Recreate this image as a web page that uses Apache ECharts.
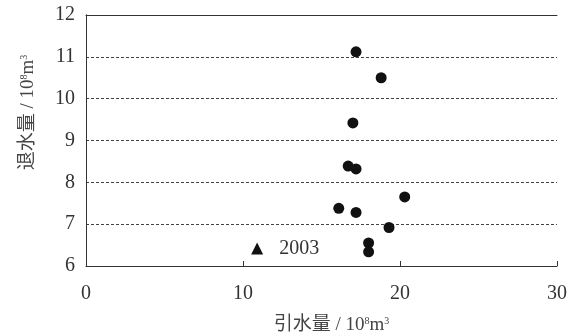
<!DOCTYPE html>
<html><head><meta charset="utf-8">
<script src="https://cdn.jsdelivr.net/npm/echarts@6/dist/echarts.min.js"></script>
<style>html,body{margin:0;padding:0;background:#fff}#c{width:574px;height:334px}</style>
</head><body><div id="c"></div>
<script>
const circleX = [17.2, 18.8, 17.0, 16.7, 17.2, 20.3, 16.1, 17.2, 19.3, 18.0, 18.0];
const circleY = [11.12, 10.5, 9.42, 8.39, 8.32, 7.65, 7.38, 7.28, 6.92, 6.55, 6.34];
const triangleX = [10.9];
const triangleY = [6.42];
const triangleLabel = '2003';
const xTicks = [0, 10, 20, 30];
const yTicks = [6, 7, 8, 9, 10, 11, 12];

const serif = '"Liberation Serif","Noto Sans CJK SC",serif';
const txt = '#333';
const chart = echarts.init(document.getElementById('c'), null, {renderer:'canvas'});
const rich = {
  b:{fontFamily:serif,fontSize:19,color:'#444'},
  s:{fontFamily:serif,fontSize:10,color:'#444',verticalAlign:'top',padding:[0,0,9,0]}
};
chart.setOption({
  animation:false,
  grid:{left:86,top:15,right:17,bottom:68,show:false,containLabel:false,outerBoundsMode:'none'},
  xAxis:[{
    type:'value',min:xTicks[0],max:xTicks[xTicks.length-1],interval:10,
    axisLine:{show:true,onZero:false,lineStyle:{color:'#333',width:1}},
    axisTick:{show:true,inside:true,length:5,lineStyle:{color:'#333'}},
    axisLabel:{fontFamily:serif,fontSize:20,color:txt,margin:18},
    splitLine:{show:false},
    name:'{b|引水量 / 10}{s|8}{b|m}{s|3}',nameLocation:'middle',nameGap:50,
    nameTextStyle:{rich:rich,padding:[0,0,0,20]}
  },{
    type:'value',position:'top',min:0,max:30,
    axisLine:{show:true,lineStyle:{color:'#333'}},axisTick:{show:false},axisLabel:{show:false},splitLine:{show:false}
  }],
  yAxis:[{
    type:'value',min:yTicks[0],max:yTicks[yTicks.length-1],interval:1,
    axisLine:{show:true,onZero:false,lineStyle:{color:'#333',width:1}},
    axisTick:{show:false},
    axisLabel:{fontFamily:serif,fontSize:20,color:txt,margin:11},
    splitLine:{show:true,lineStyle:{color:'#444',type:[3,2],width:1}},
    name:'{b|退水量 / 10}{s|8}{b|m}{s|3}',nameLocation:'middle',nameGap:48,nameRotate:90,
    nameTextStyle:{rich:rich,padding:[0,0,0,56]}
  },{
    type:'value',position:'right',min:6,max:12,
    axisLine:{show:true,lineStyle:{color:'#333'}},axisTick:{show:false},axisLabel:{show:false},splitLine:{show:false}
  }],
  series:[{
    type:'scatter',symbol:'circle',symbolSize:11,
    itemStyle:{color:'#111',opacity:1},
    data:circleX.map((x,i)=>[x,circleY[i]])
  },{
    type:'scatter',symbol:'triangle',symbolSize:12,
    itemStyle:{color:'#111',opacity:1},
    label:{show:true,position:'right',distance:16,formatter:triangleLabel,fontFamily:serif,fontSize:20,color:txt},
    data:triangleX.map((x,i)=>[x,triangleY[i]])
  }]
});
</script></body></html>
